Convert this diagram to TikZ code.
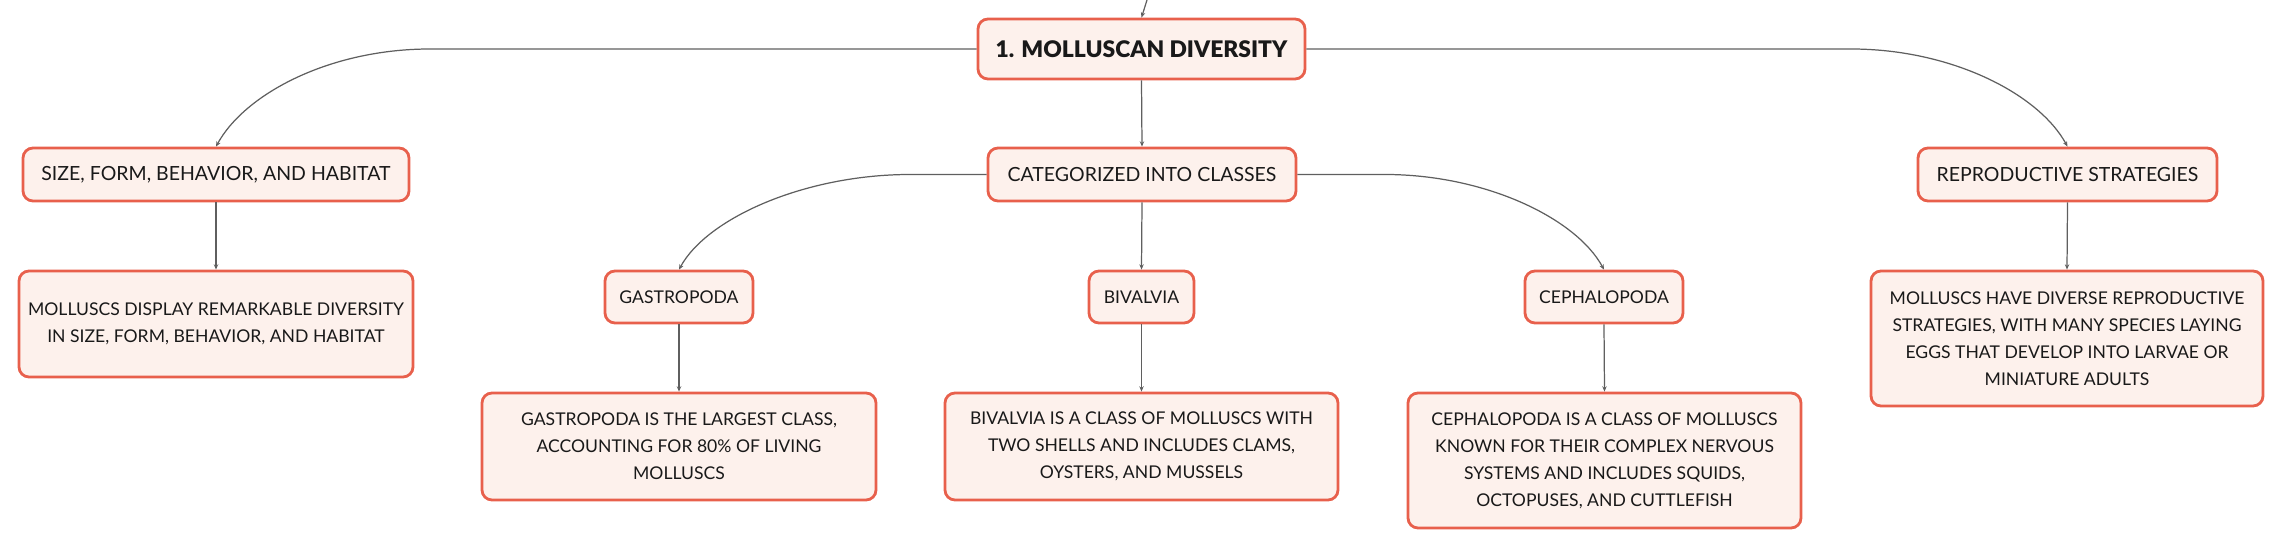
\documentclass[tikz,border=0pt]{standalone}
\usepackage{fontspec}
\setmainfont{Lato}
\newfontfamily\titlefont{Lato Black}
\usepackage{tikz}
\usetikzlibrary{shapes,arrows.meta}

\definecolor{boxline}{HTML}{E8604C}
\definecolor{boxfill}{HTML}{FDF1EC}
\definecolor{linkgray}{HTML}{5F5F5F}

\begin{document}
\begin{tikzpicture}[
  box/.style={draw=boxline, fill=boxfill, rectangle, rounded corners=0.2cm, line width=1.6pt, align=center, text=black!90, font=\fontsize{10}{15.4}\selectfont},
  topic/.style={box, font=\fontsize{11.1}{14}\selectfont},
  link/.style={draw=linkgray, line width=0.7pt, -{Stealth[length=3pt,width=2.5pt]}}
]
\useasboundingbox (0,0) rectangle (45.68,-10.98);

% top level
\node[box, minimum width=6.54cm, minimum height=1.2cm, font=\fontsize{13}{16}\selectfont\titlefont] (root) at (22.83,-0.98) {1. MOLLUSCAN DIVERSITY};
\node[topic, minimum width=7.72cm, minimum height=1.06cm] (size) at (4.32,-3.49) {SIZE, FORM, BEHAVIOR, AND HABITAT};
\node[topic, minimum width=6.16cm, minimum height=1.06cm] (classes) at (22.84,-3.49) {CATEGORIZED INTO CLASSES};
\node[topic, minimum width=5.98cm, minimum height=1.06cm] (repro) at (41.35,-3.49) {REPRODUCTIVE STRATEGIES};

\node[box, minimum width=7.88cm, minimum height=2.12cm] (sizetxt) at (4.32,-6.48) {MOLLUSCS DISPLAY REMARKABLE DIVERSITY\\IN SIZE, FORM, BEHAVIOR, AND HABITAT};
\node[box, minimum width=7.84cm, minimum height=2.7cm] (reprotxt) at (41.34,-6.77) {MOLLUSCS HAVE DIVERSE REPRODUCTIVE\\STRATEGIES, WITH MANY SPECIES LAYING\\EGGS THAT DEVELOP INTO LARVAE OR\\MINIATURE ADULTS};

% classes
\node[box, minimum width=2.96cm, minimum height=1.04cm] (gastro) at (13.58,-5.94) {GASTROPODA};
\node[box, minimum width=2.10cm, minimum height=1.04cm] (biv) at (22.83,-5.94) {BIVALVIA};
\node[box, minimum width=3.16cm, minimum height=1.04cm] (ceph) at (32.08,-5.94) {CEPHALOPODA};

\node[box, minimum width=7.88cm, minimum height=2.14cm] (gastrotxt) at (13.58,-8.93) {GASTROPODA IS THE LARGEST CLASS,\\ACCOUNTING FOR 80\% OF LIVING\\MOLLUSCS};
\node[box, minimum width=7.86cm, minimum height=2.14cm] (bivtxt) at (22.83,-8.93) {BIVALVIA IS A CLASS OF MOLLUSCS WITH\\TWO SHELLS AND INCLUDES CLAMS,\\OYSTERS, AND MUSSELS};
\node[box, minimum width=7.86cm, minimum height=2.7cm] (cephtxt) at (32.09,-9.21) {CEPHALOPODA IS A CLASS OF MOLLUSCS\\KNOWN FOR THEIR COMPLEX NERVOUS\\SYSTEMS AND INCLUDES SQUIDS,\\OCTOPUSES, AND CUTTLEFISH};

% connectors
\coordinate (topin) at (22.94,0);
\coordinate (rootL) at (8.6,-0.98);
\coordinate (rootR) at (37.02,-0.98);
\coordinate (classesL) at (18.2,-3.49);
\coordinate (classesR) at (27.7,-3.49);

\draw[link] (topin) -- (root.north);
\draw[link] (root.west) -- (rootL) .. controls +(-2,0) and +(0.58,1.06) .. (size.north);
\draw[link] (root.south) -- (classes.north);
\draw[link] (root.east) -- (rootR) .. controls +(2,0) and +(-0.58,1.06) .. (repro.north);
\draw[link] (size.south) -- (sizetxt.north);
\draw[link] (repro.south) -- (reprotxt.north);

\draw[link] (classes.west) -- (classesL) .. controls +(-2.1,0) and +(0.56,1.03) .. (gastro.north);
\draw[link] (classes.south) -- (biv.north);
\draw[link] (classes.east) -- (classesR) .. controls +(2,0) and +(-0.56,1.03) .. (ceph.north);
\draw[link] (gastro.south) -- (gastrotxt.north);
\draw[link] (biv.south) -- (bivtxt.north);
\draw[link] (ceph.south) -- (cephtxt.north);
\end{tikzpicture}
\end{document}
